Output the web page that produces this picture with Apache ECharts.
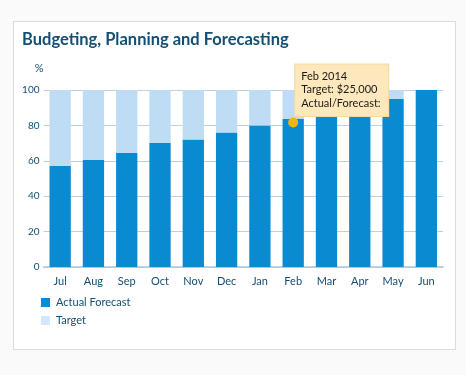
<!DOCTYPE html>
<html>
<head>
<meta charset="utf-8">
<script src="https://cdn.jsdelivr.net/npm/echarts@6/dist/echarts.min.js"></script>
<style>
  html, body { margin: 0; padding: 0; background: #fafafa; }
  #card {
    position: absolute; left: 13px; top: 21px; width: 441px; height: 327px;
    background: #fff; border: 1px solid #dcdcdc;
  }
  #main { position: absolute; left: 0; top: 0; width: 466px; height: 375px; }
</style>
</head>
<body>
<div id="card"></div>
<div id="main"></div>
<script>
const months = ['Jul', 'Aug', 'Sep', 'Oct', 'Nov', 'Dec', 'Jan', 'Feb', 'Mar', 'Apr', 'May', 'Jun']
const actual = [57, 60.6, 64.4, 70, 72, 76, 80, 83.7, 88, 92, 95, 100]
const target = [43, 39.4, 35.6, 30, 28, 24, 20, 16.3, 12, 8, 5, 0]
const yTicks = [0, 20, 40, 60, 80, 100]
const highlight = ['Feb', 81.6]
const tipLines = ['Feb 2014', 'Target: $25,000', 'Actual/Forecast:']

const dark = '#0a8bd1'
const light = '#bedcf4'
const ink = '#124f74'
const font = 'Lato'

const chart = echarts.init(document.getElementById('main'), null, { renderer: 'canvas' })

chart.setOption({
  backgroundColor: 'transparent',
  animation: false,
  title: {
    text: 'Budgeting, Planning and Forecasting',
    left: 22,
    top: 31,
    padding: 0,
    textStyle: { color: ink, fontFamily: font, fontSize: 16.5, fontWeight: 'bold' },
  },
  legend: {
    orient: 'vertical',
    left: 41,
    top: 297,
    padding: 0,
    itemWidth: 9,
    itemHeight: 9,
    itemGap: 7,
    icon: 'rect',
    textStyle: { color: ink, fontFamily: font, fontSize: 11, padding: [0, 0, 0, 1] },
    data: [
      { name: 'Actual Forecast', itemStyle: { color: dark } },
      { name: 'Target', itemStyle: { color: '#d3e7f8' } },
    ],
  },
  grid: { left: 43.5, right: 23, top: 90, bottom: 108 },
  xAxis: {
    type: 'category',
    data: months,
    axisLine: { lineStyle: { color: '#a9c9dd', width: 1.5 } },
    axisTick: { show: false },
    axisLabel: { color: ink, fontFamily: font, fontSize: 11, margin: 9 },
  },
  yAxis: {
    type: 'value',
    min: yTicks[0],
    max: yTicks[yTicks.length - 1],
    interval: yTicks[1] - yTicks[0],
    name: '%',
    nameGap: 16,
    nameTextStyle: { color: ink, fontFamily: font, fontSize: 11, align: 'right' },
    axisLine: { show: false },
    axisTick: { show: false },
    axisLabel: { color: ink, fontFamily: font, fontSize: 10, margin: 4 },
    splitLine: { lineStyle: { color: '#b9d3e3', width: 1 } },
  },
  series: [
    {
      name: 'Actual Forecast',
      type: 'bar',
      stack: 'total',
      barWidth: '64%',
      itemStyle: { color: dark },
      data: actual,
    },
    {
      name: 'Target',
      type: 'bar',
      stack: 'total',
      itemStyle: { color: light },
      data: target,
    },
    {
      name: 'marker',
      type: 'scatter',
      symbolSize: 10,
      itemStyle: { color: '#f7b512', opacity: 1 },
      data: [highlight],
      z: 5,
      label: {
        show: true,
        position: [7, -53],
        formatter: tipLines.join('\n'),
        backgroundColor: '#fde8bd',
        borderColor: '#f3d9a1',
        borderWidth: 1,
        padding: [5, 7, 6, 6],
        width: 80,
        lineHeight: 13.5,
        color: '#1a1a1a',
        fontFamily: font,
        fontSize: 11,
      },
    },
  ],
})
</script>
</body>
</html>
